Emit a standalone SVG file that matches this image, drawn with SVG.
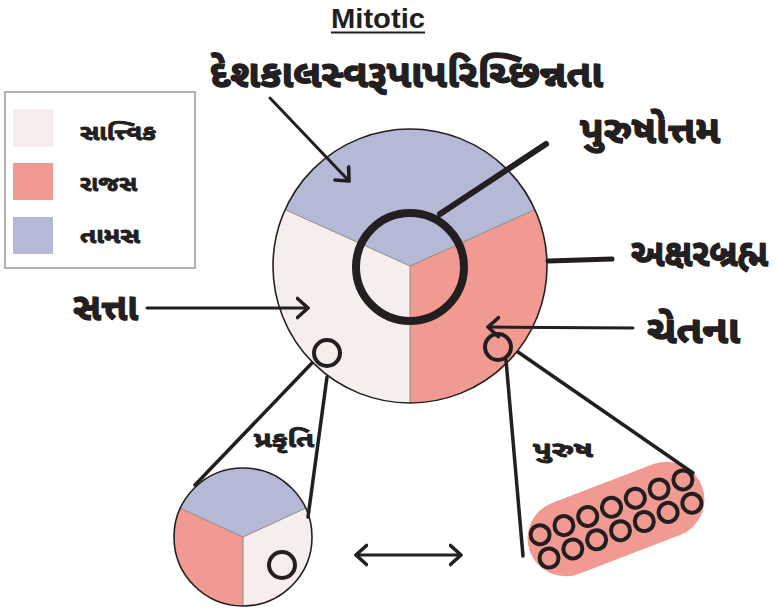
<svg xmlns="http://www.w3.org/2000/svg" width="777" height="611" viewBox="0 0 777 611">
<style>
.guj{font-family:"Noto Sans Gujarati","Lohit Gujarati","Noto Sans","DejaVu Sans",sans-serif;font-weight:bold;fill:#231f20;stroke:#231f20;stroke-linejoin:round}
.big{font-size:38px;stroke-width:1.4}
.mid{font-size:22px;stroke-width:0.9}
.leg{font-size:21px;stroke-width:0.9}
.title{font-family:"Liberation Sans",Arial,sans-serif;font-weight:bold;font-size:28px;fill:#231f20}
.sat{fill:#f5eeec}
.raj{fill:#f09a91}
.tam{fill:#b6b9d6}
.div{stroke:#8a8a8a;stroke-width:1;fill:none}
.rim{fill:none;stroke:#231f20;stroke-width:1.6}
.ln{stroke:#231f20;fill:none;stroke-linecap:round}
.ring{fill:none;stroke:#231f20}
</style>
<defs>
<marker id="chev" markerUnits="userSpaceOnUse" markerWidth="26" markerHeight="26" refX="12" refY="11" orient="auto-start-reverse" viewBox="0 0 26 22">
<path d="M1.5,1.5 L12,11 L1.5,20.5" fill="none" stroke="#231f20" stroke-width="3.6" stroke-linecap="round" stroke-linejoin="round"/>
</marker>
</defs>
<rect width="777" height="611" fill="#ffffff"/>

<g id="title">
<text class="title" x="378" y="28" text-anchor="middle" textLength="94" lengthAdjust="spacingAndGlyphs">Mitotic</text>
<line x1="331" y1="32.5" x2="425" y2="32.5" stroke="#231f20" stroke-width="2"/>
</g>

<g id="legend">
<rect x="5" y="92" width="190" height="176" fill="#ffffff" stroke="#9a9a9a" stroke-width="1.5"/>
<rect class="sat" x="13" y="109" width="40" height="38"/>
<rect class="raj" x="13" y="163" width="40" height="37"/>
<rect class="tam" x="13" y="217" width="40" height="37"/>
<text class="guj leg" x="80" y="140" textLength="76" lengthAdjust="spacingAndGlyphs">સાત્ત્વિક</text>
<text class="guj leg" x="80" y="191" textLength="57" lengthAdjust="spacingAndGlyphs">રાજસ</text>
<text class="guj leg" x="80" y="243" textLength="60" lengthAdjust="spacingAndGlyphs">તામસ</text>
</g>

<g id="main-circle">
<path class="tam" d="M410,266 L285.1,209.6 A137,137 0 0,1 534.9,209.6 Z"/>
<path class="raj" d="M410,266 L534.9,209.6 A137,137 0 0,1 410,403 Z"/>
<path class="sat" d="M410,266 L410,403 A137,137 0 0,1 285.1,209.6 Z"/>
<path class="div" d="M285.1,209.6 L410,266 L534.9,209.6 M410,266 L410,403"/>
<circle class="rim" cx="410" cy="266" r="137"/>
</g>

<g id="purushottam-ring">
<circle class="ring" cx="410" cy="267" r="54" stroke-width="8"/>
</g>

<g id="small-ring-left">
<circle class="ring" cx="327" cy="353" r="13" stroke-width="4"/>
</g>
<g id="small-ring-right">
<circle class="ring" cx="498" cy="347" r="13" stroke-width="4"/>
</g>

<g id="prakriti-circle">
<path class="tam" d="M243,537 L180.3,508.2 A69,69 0 0,1 305.7,508.2 Z"/>
<path class="sat" d="M243,537 L305.7,508.2 A69,69 0 0,1 243,606 Z"/>
<path class="raj" d="M243,537 L243,606 A69,69 0 0,1 180.3,508.2 Z"/>
<path class="div" d="M180.3,508.2 L243,537 L305.7,508.2 M243,537 L243,606"/>
<circle class="rim" cx="243" cy="537" r="69" stroke-width="2"/>
<circle class="ring" cx="282" cy="565" r="13" stroke-width="4"/>
</g>

<g id="purush-pill">
<g transform="translate(616,519) rotate(-21)">
<rect x="-92" y="-38" width="184" height="76" rx="38" ry="38" class="raj"/>
<g class="ring" stroke-width="4">
<circle cx="-76.5" cy="-12.5" r="9.5"/><circle cx="-51" cy="-12.5" r="9.5"/><circle cx="-25.5" cy="-12.5" r="9.5"/><circle cx="0" cy="-12.5" r="9.5"/><circle cx="25.5" cy="-12.5" r="9.5"/><circle cx="51" cy="-12.5" r="9.5"/><circle cx="76.5" cy="-12.5" r="9.5"/>
<circle cx="-76.5" cy="12.5" r="9.5"/><circle cx="-51" cy="12.5" r="9.5"/><circle cx="-25.5" cy="12.5" r="9.5"/><circle cx="0" cy="12.5" r="9.5"/><circle cx="25.5" cy="12.5" r="9.5"/><circle cx="51" cy="12.5" r="9.5"/><circle cx="76.5" cy="12.5" r="9.5"/>
</g>
</g>
</g>

<g id="labels">
<text class="guj big" x="210" y="87" textLength="393" lengthAdjust="spacingAndGlyphs">દેશકાલસ્વરૂપાપરિચ્છિન્નતા</text>
<text class="guj big" x="580" y="143" textLength="140" lengthAdjust="spacingAndGlyphs">પુરુષોત્તમ</text>
<text class="guj big" x="631" y="266" textLength="137" lengthAdjust="spacingAndGlyphs">અક્ષરબ્રહ્મ</text>
<text class="guj big" x="647" y="343" textLength="93" lengthAdjust="spacingAndGlyphs">ચેતના</text>
<text class="guj big" x="73" y="320" textLength="65" lengthAdjust="spacingAndGlyphs">સત્તા</text>
<text class="guj mid" x="254" y="447" textLength="60" lengthAdjust="spacingAndGlyphs">પ્રકૃતિ</text>
<text class="guj mid" x="533" y="457" textLength="60" lengthAdjust="spacingAndGlyphs">પુરુષ</text>
</g>

<g id="connectors">
<line class="ln" x1="270" y1="98" x2="349" y2="181" stroke-width="3" marker-end="url(#chev)"/>
<line class="ln" x1="147" y1="308" x2="308" y2="308" stroke-width="3" marker-end="url(#chev)"/>
<line class="ln" x1="633" y1="328" x2="488" y2="327" stroke-width="3" marker-end="url(#chev)"/>
<line class="ln" x1="440" y1="214" x2="546" y2="144" stroke-width="6" stroke-linecap="butt"/>
<line class="ln" x1="548" y1="261" x2="612" y2="259" stroke-width="5" stroke-linecap="butt"/>
<line class="ln" x1="312" y1="363" x2="195" y2="485" stroke-width="3.5"/>
<line class="ln" x1="327" y1="377" x2="308" y2="517" stroke-width="3.5"/>
<line class="ln" x1="506" y1="360" x2="523" y2="556" stroke-width="3.5"/>
<line class="ln" x1="518" y1="352" x2="693" y2="473" stroke-width="3.5"/>
<line class="ln" x1="356" y1="555" x2="461" y2="555" stroke-width="3" marker-start="url(#chev)" marker-end="url(#chev)"/>
</g>
</svg>
